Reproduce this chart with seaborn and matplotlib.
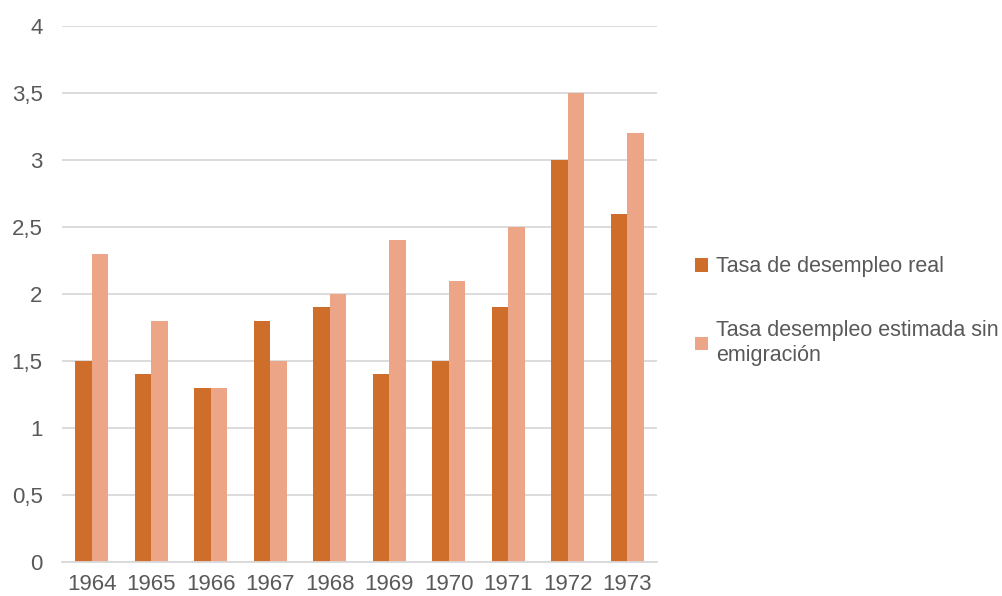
import matplotlib
matplotlib.use("Agg")
import matplotlib.pyplot as plt
from matplotlib.patches import Patch
import pandas as pd
import seaborn as sns

years = ["1964", "1965", "1966", "1967", "1968", "1969", "1970", "1971", "1972", "1973"]
real = [1.5, 1.4, 1.3, 1.8, 1.9, 1.4, 1.5, 1.9, 3.0, 2.6]
estimada = [2.3, 1.8, 1.3, 1.5, 2.0, 2.4, 2.1, 2.5, 3.5, 3.2]
series_names = ["Tasa de desempleo real", "Tasa desempleo estimada sin\nemigración"]
colors = ["#CF6E2A", "#EDA588"]
yticks = [0, 0.5, 1, 1.5, 2, 2.5, 3, 3.5, 4]
ylabels = ["0", "0,5", "1", "1,5", "2", "2,5", "3", "3,5", "4"]

sns.set_style("white")
plt.rcParams["font.family"] = ["Liberation Sans", "DejaVu Sans"]
text_color = "#595959"

df = pd.DataFrame({"Año": years, series_names[0]: real, series_names[1]: estimada})
tidy = df.melt(id_vars="Año", var_name="Serie", value_name="Valor")

fig = plt.figure(figsize=(10.03, 5.96), dpi=100)
ax = fig.add_axes([62 / 1003, 1 - 562 / 596, 595 / 1003, 536 / 596])
sns.barplot(x="Año", y="Valor", hue="Serie", data=tidy, ax=ax,
            palette=colors, width=0.56, saturation=1, legend=False, linewidth=0)

ax.set_ylim(0, 4)
ax.set_xlim(-0.5, len(years) - 0.5)
ax.set_yticks(yticks)
ax.set_yticklabels(ylabels)
ax.yaxis.grid(True, color="#D9D9D9", linewidth=1.3)
ax.set_axisbelow(True)
ax.set_xlabel("")
ax.set_ylabel("")
for s in ["top", "right", "left"]:
    ax.spines[s].set_visible(False)
ax.spines["bottom"].set_color("#D9D9D9")
ax.spines["bottom"].set_linewidth(1.3)

# tick marks between categories on the x axis
ax.set_xticks([i - 0.5 for i in range(len(years) + 1)], minor=True)
ax.tick_params(axis="x", which="minor", length=5, width=1.3, color="#D9D9D9", direction="out")
ax.tick_params(axis="x", which="major", length=0, labelsize=16, labelcolor=text_color, pad=9)
ax.tick_params(axis="y", length=0, labelsize=16, labelcolor=text_color, pad=14)

handles = [Patch(facecolor=c, edgecolor="none") for c in colors]
fig.legend(handles, series_names, loc="center left", bbox_to_anchor=(676 / 1003, 1 - 311 / 596),
           frameon=False, fontsize=15.5, labelcolor=text_color, handlelength=0.6, handleheight=0.6,
           handletextpad=0.35, labelspacing=2.0)

fig.savefig("out.png", dpi=100)
